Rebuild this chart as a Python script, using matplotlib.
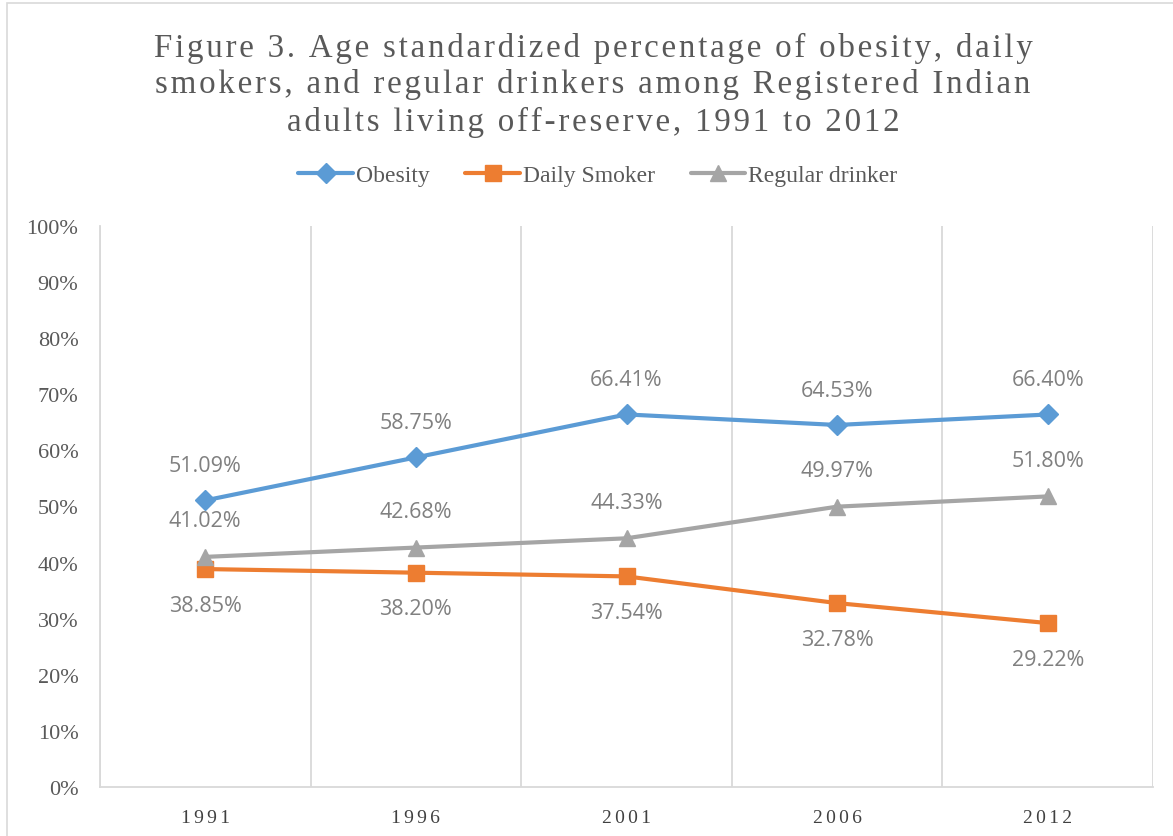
import matplotlib
matplotlib.use("Agg")
import matplotlib.pyplot as plt
from matplotlib.patches import Rectangle
import numpy as np

years = ["1991", "1996", "2001", "2006", "2012"]
obesity = [51.09, 58.75, 66.41, 64.53, 66.40]
daily_smoker = [38.85, 38.20, 37.54, 32.78, 29.22]
regular_drinker = [41.02, 42.68, 44.33, 49.97, 51.80]
series_names = ["Obesity", "Daily Smoker", "Regular drinker"]
title_lines = ["Figure 3. Age standardized percentage of obesity, daily",
               "smokers, and regular drinkers among Registered Indian",
               "adults living off-reserve, 1991 to 2012"]

SERIF = ["Liberation Serif", "DejaVu Serif"]
SANS = ["Open Sans", "DejaVu Sans"]
HS = "\u200a"


def spaced(s, n=1):
    return (HS * n).join(s)


W, H = 1173, 837
fig = plt.figure(figsize=(W / 100, H / 100), dpi=100)
fig.patch.set_facecolor("white")

# outer chart border
fig.patches.append(Rectangle((7 / W, -0.05), 1.1, 1 - 4 / H + 0.05, transform=fig.transFigure,
                             fill=False, edgecolor="#D9D9D9", linewidth=1.2))

ax = fig.add_axes([100 / W, 1 - 788 / H, (1153 - 100) / W, (788 - 227) / H])
x = np.arange(len(years))

colors = ["#5B9BD5", "#ED7D31", "#A5A5A5"]
markers = ["D", "s", "^"]
msizes = [10, 11, 12]
data = [obesity, daily_smoker, regular_drinker]
offsets = [25, -26, 26]

handles = []
for vals, c, m, ms, name, off in zip(data, colors, markers, msizes, series_names, offsets):
    h, = ax.plot(x, vals, color=c, marker=m, markersize=ms, linewidth=3, label=name,
                 solid_capstyle="round", zorder=3)
    handles.append(h)
    for xi, v in zip(x, vals):
        ax.annotate(f"{v:.2f}%", (xi, v), xytext=(0, off), textcoords="offset points",
                    ha="center", va="center", fontsize=15.5, color="#808080", family=SANS)

ax.set_xlim(-0.5, len(years) - 0.5)
ax.set_ylim(0, 100)
ax.set_yticks(np.arange(0, 101, 10))
ax.set_yticklabels([f"{v}%" for v in range(0, 101, 10)], family=SERIF, fontsize=16, color="#595959")
ax.set_xticks(x)
ax.set_xticklabels([spaced(y, 2) for y in years], family=SERIF, fontsize=14, color="#404040")
ax.set_xticks(np.arange(-0.5, len(years), 1), minor=True)
ax.grid(which="minor", axis="x", color="#D9D9D9", linewidth=1.3)
ax.tick_params(which="both", length=0)
ax.tick_params(axis="x", pad=16)
ax.tick_params(axis="y", pad=15.5)
for s in ["top", "right"]:
    ax.spines[s].set_visible(False)
for s in ["left", "bottom"]:
    ax.spines[s].set_color("#D9D9D9")
    ax.spines[s].set_linewidth(1.3)

for i, line in enumerate(title_lines):
    fig.text(593 / W, 1 - (48 + i * 37) / H, spaced(line, 1), ha="center", va="center",
             family=SERIF, fontsize=23.8, color="#595959")

fig.legend(handles=handles, loc="center", bbox_to_anchor=(598 / W, 1 - 176 / H), ncol=3,
           frameon=False, prop={"family": SERIF, "size": 17}, handlelength=2.3,
           columnspacing=1.5, handletextpad=0.15, labelcolor="#595959")

fig.savefig("out.png", dpi=100, facecolor="white")
